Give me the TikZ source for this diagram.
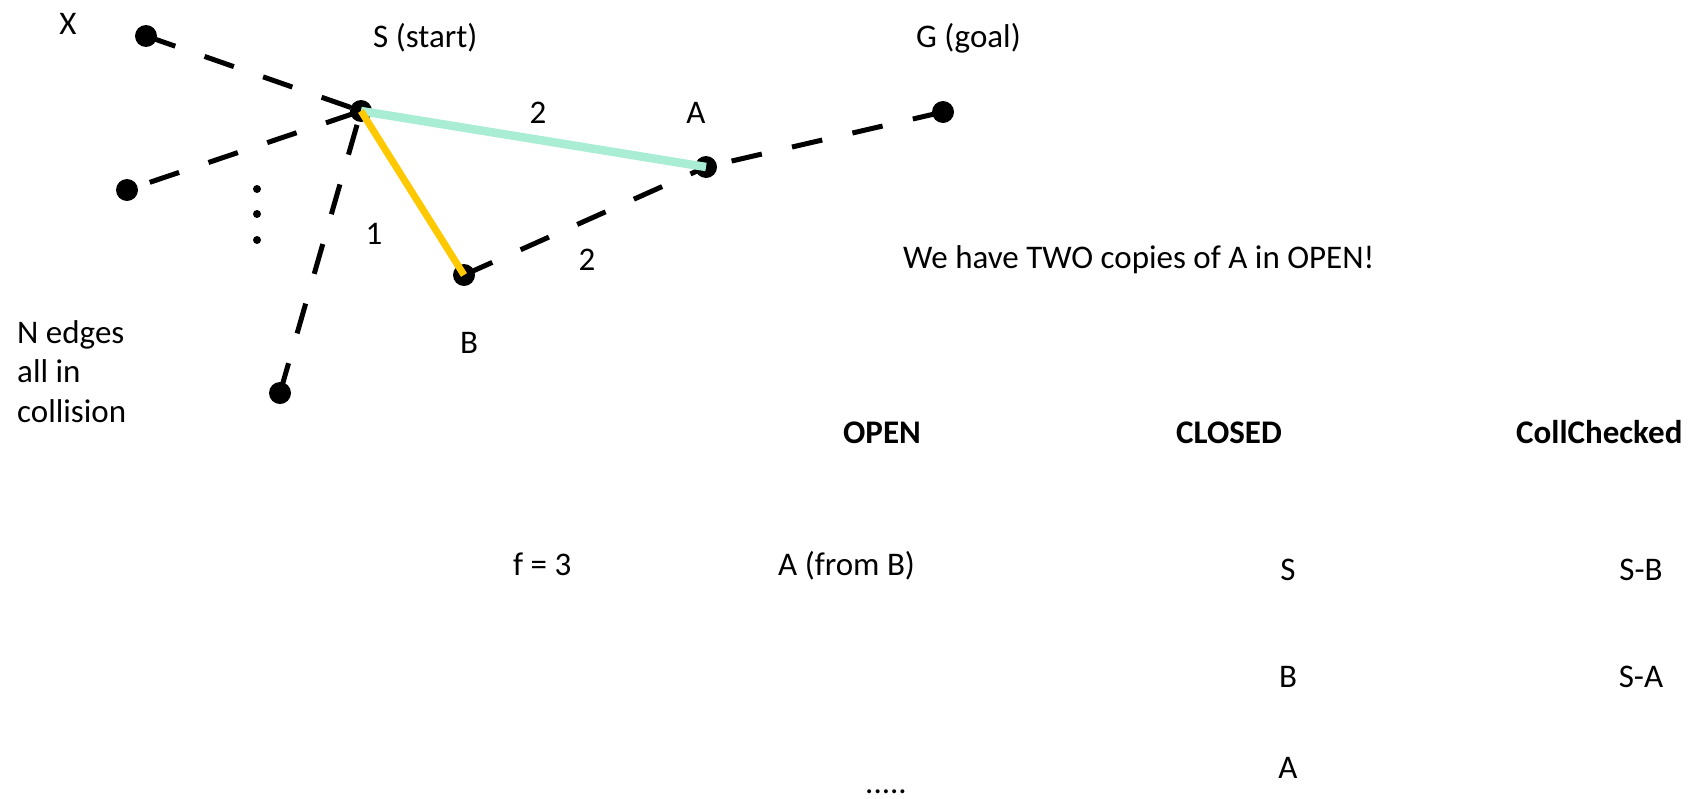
\documentclass[tikz,border=0pt]{standalone}
\usepackage{fontspec}
\setmainfont{Carlito}
\definecolor{mint}{HTML}{A9EDD4}
\definecolor{amber}{HTML}{FFC900}
\begin{document}
\begin{tikzpicture}[x=1pt,y=-1pt,
  vtx/.style={circle,fill=black,minimum size=22pt,inner sep=0pt},
  edot/.style={circle,fill=black,minimum size=8pt,inner sep=0pt},
  blocked/.style={line width=5pt,dash pattern=on 31pt off 31pt},
  lbl/.style={inner sep=0pt,anchor=base,font=\fontsize{33}{40}\selectfont},
  lblw/.style={lbl,anchor=base west},
  head/.style={lbl,font=\fontsize{33}{40}\selectfont\bfseries}]
\fill[white] (0,0) rectangle (1693,798);
\useasboundingbox (0,0) rectangle (1693,798);

% vertices
\node[vtx] (X) at (146,36) {};
\node[vtx] (S) at (361,111) {};
\node[vtx] (A) at (706,167) {};
\node[vtx] (G) at (943,112) {};
\node[vtx] (L) at (127,190) {};
\node[vtx] (D) at (280,393) {};
\node[vtx] (B) at (464,275) {};

% edges in collision
\draw[blocked] (X.center) -- (S.center);
\draw[blocked,dash phase=38pt] (L.center) -- (S.center);
\draw[blocked] (D.center) -- (S.center);
\draw[blocked] (B.center) -- (A.center);
\draw[blocked] (G.center) -- (A.center);

% collision-free edges
\draw[mint,line width=8.5pt] (S.center) -- (A.center);
\draw[amber,line width=7pt] (S.center) -- (B.center);

% more edges left out
\node[edot] (e1) at (257,189) {};
\node[edot] (e2) at (257,214) {};
\node[edot] (e3) at (257,240) {};

% graph labels
\node[lbl] (tX) at (68,34) {X};
\node[lblw] (tS) at (373,47) {S (start)};
\node[lblw] (tG) at (916,47) {G (goal)};
\node[lbl] (tA) at (696,123) {A};
\node[lbl] (tB) at (469,353) {B};
\node[lbl] (wSA) at (538,123) {2};
\node[lbl] (wSB) at (374,244) {1};
\node[lbl] (wBA) at (587,270) {2};
\node[lblw] (n1) at (17,343) {N edges};
\node[lblw] (n2) at (17,382) {all in};
\node[lblw] (n3) at (17,422) {collision};
\node[lblw] (note) at (903,268) {We have TWO copies of A in OPEN!};

% lists
\node[head] (hOpen) at (882,443) {OPEN};
\node[head] (hClosed) at (1229,443) {CLOSED};
\node[head,anchor=base west] (hColl) at (1516,443) {CollChecked};
\node[lblw] (f) at (513,575) {f = 3};
\node[lblw] (o1) at (778,575) {A (from B)};
\node[lbl] (o2) at (886,793) {.....};
\node[lbl] (c1) at (1288,580) {S};
\node[lbl] (c2) at (1288,687) {B};
\node[lbl] (c3) at (1288,778) {A};
\node[lbl] (k1) at (1641,580) {S-B};
\node[lbl] (k2) at (1641,687) {S-A};
\end{tikzpicture}
\end{document}
